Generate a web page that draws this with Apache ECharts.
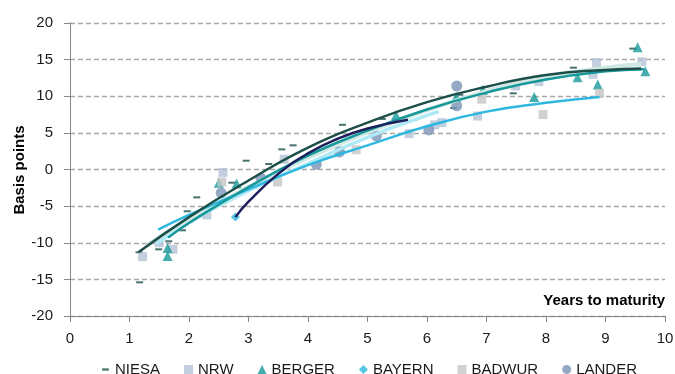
<!DOCTYPE html>
<html>
<head>
<meta charset="utf-8">
<script src="https://cdn.jsdelivr.net/npm/echarts@6/dist/echarts.min.js"></script>
<style>
  html, body { margin: 0; padding: 0; background: #fff; }
  #main { width: 675px; height: 374px; }
</style>
</head>
<body>
<div id="main"></div>
<script>
// scatter points [years, basis points]
var niesa = [[1.16, -11.3], [1.17, -15.4], [1.49, -10.9], [1.66, -9.8], [1.89, -8.3], [1.97, -5.7],
    [2.13, -3.8], [2.72, -1.8], [2.96, 1.2], [3.34, 0.75], [3.56, 2.75], [3.75, 3.3], [4.58, 6.1],
    [5.25, 6.9], [6.45, 8.4], [6.55, 10.2], [7.45, 10.4], [8.46, 13.9], [9.46, 16.5]];
var nrw = [[1.22, -11.9], [1.5, -10.0], [1.73, -10.9], [2.3, -6.2], [2.57, -0.4], [3.6, 1.4],
    [4.53, 2.6], [5.7, 4.9], [6.13, 6.1], [6.25, 6.4], [6.85, 7.3], [7.49, 11.4], [7.88, 12.0],
    [8.79, 13.0], [8.85, 14.6], [9.61, 14.7]];
var berger = [[1.64, -10.7], [1.64, -11.8], [2.5, -1.8], [2.8, -1.9], [5.48, 7.4], [6.49, 9.9],
    [6.94, 10.9], [7.8, 9.9], [8.53, 12.6], [8.87, 11.6], [9.54, 16.7], [9.67, 13.4]];
var bayern = [[2.78, -6.5]];
var badwur = [[2.55, -1.7], [3.49, -1.7], [4.81, 2.7], [6.92, 9.6], [7.95, 7.5], [8.9, 10.4]];
var lander = [[2.54, -3.2], [3.21, -1.2], [4.14, 0.7], [4.53, 2.4], [5.15, 4.6], [6.03, 5.4],
    [6.5, 8.7], [6.5, 11.4]];

// trendlines
var niesaTrend = [[1.15, -11.3], [2, -6.5], [3, -1.5], [4, 3.0], [5, 6.4], [6, 9.2], [7, 11.3],
    [8, 12.9], [9, 13.6], [9.6, 13.8]];
var bergerTrend = [[1.65, -9.3], [2, -7.3], [3, -2.4], [4, 1.9], [5, 5.3], [6, 8.2], [7, 10.5],
    [8, 12.3], [9, 13.4], [9.65, 13.7]];
var badwurTrend = [[1.3, -10.3], [2, -6.8], [3, -2.4], [4, 1.6], [5, 5.1], [6, 8.1], [7, 10.7],
    [8, 12.7], [9, 13.9], [9.6, 14.4]];
var nrwTrend = [[1.45, -10.2], [2, -7.2], [3, -2.9], [4, 0.8], [5, 4.4], [6, 7.4], [6.2, 7.9]];
var bayernTrend = [[1.48, -8.2], [2, -6.2], [3, -2.7], [4, 0.6], [5, 3.3], [6, 5.9], [7, 7.9],
    [8, 9.1], [8.9, 9.9]];
var landerTrend = [[2.78, -6.5], [3, -4.4], [3.5, -0.6], [4, 2.2], [4.5, 4.2], [5, 5.6], [5.68, 6.8]];

var xTicks = [0, 1, 2, 3, 4, 5, 6, 7, 8, 9, 10];
var yTicks = [-20, -15, -10, -5, 0, 5, 10, 15, 20];

var font = 'Liberation Sans, Arial, sans-serif';
var axisColor = '#868686';

function dots(name, data, symbol, size, color) {
    return {
        name: name, type: 'scatter', data: data, symbol: symbol, symbolSize: size,
        itemStyle: { color: color }, z: 2
    };
}
function trend(name, data, color, width) {
    return {
        name: name, type: 'line', data: data, smooth: true, showSymbol: false,
        lineStyle: { color: color, width: width }, z: 3
    };
}

var myChart = echarts.init(document.getElementById('main'));

var option = {
    animation: false,
    grid: { left: 70, right: 10, top: 23, bottom: 58, outerBoundsMode: 'none' },
    // y axis title, placed by hand so it sits where the original has it
    graphic: [{
        type: 'text', x: 20, y: 170, rotation: Math.PI / 2,
        style: {
            text: 'Basis points', align: 'center', verticalAlign: 'middle',
            font: 'bold 15px Liberation Sans, Arial, sans-serif', fill: '#000'
        }
    }],
    legend: {
        top: 357,
        left: 96,
        itemGap: 24,
        itemWidth: 9,
        itemHeight: 9,
        textStyle: { fontFamily: font, fontSize: 15, color: '#1a1a1a' },
        data: [
            { name: 'NIESA', icon: 'path://M0,0L0,0M8,8L8,8M1,3h6v2h-6z' },
            { name: 'NRW', icon: 'rect' },
            { name: 'BERGER', icon: 'triangle' },
            { name: 'BAYERN', icon: 'diamond' },
            { name: 'BADWUR', icon: 'rect' },
            { name: 'LANDER', icon: 'circle' }
        ]
    },
    xAxis: {
        type: 'value', min: xTicks[0], max: xTicks[xTicks.length - 1], interval: 1,
        name: 'Years to maturity', nameLocation: 'end', nameGap: 0,
        nameTextStyle: {
            fontFamily: font, fontSize: 15, fontWeight: 'bold', color: '#000',
            align: 'right', verticalAlign: 'bottom', padding: [0, 0, 8, 0]
        },
        axisLine: { onZero: false, lineStyle: { color: axisColor, width: 1 } },
        axisTick: { show: true, length: 6, lineStyle: { color: axisColor } },
        axisLabel: { margin: 15, fontFamily: font, fontSize: 15, color: '#1a1a1a' },
        splitLine: { show: false }
    },
    yAxis: {
        type: 'value', min: yTicks[0], max: yTicks[yTicks.length - 1], interval: 5,
        axisLine: { show: true, lineStyle: { color: axisColor, width: 1 } },
        axisTick: { show: true, length: 6, lineStyle: { color: axisColor } },
        axisLabel: { margin: 17, fontFamily: font, fontSize: 15, color: '#1a1a1a' },
        splitLine: { lineStyle: { color: '#a8a8a8', width: 1.3, type: [5, 3] } }
    },
    series: [
        dots('NIESA', niesa, 'rect', [7, 2], '#1d4f4a'),
        dots('NRW', nrw, 'rect', 9, '#b4c3d7'),
        dots('BERGER', berger, 'triangle', 10, '#16989a'),
        dots('BAYERN', bayern, 'diamond', 9, '#2db7de'),
        dots('BADWUR', badwur, 'rect', 9, '#c6c6c6'),
        dots('LANDER', lander, 'circle', 11, '#7b93b5'),
        trend('NRW trend', nrwTrend, '#aee9f5', 3.5),
        trend('BADWUR trend', badwurTrend, '#cfe8e3', 4),
        trend('BAYERN trend', bayernTrend, '#2eb8e0', 2.5),
        trend('BERGER trend', bergerTrend, '#16989a', 2.5),
        trend('LANDER trend', landerTrend, '#1c1f5c', 2.5),
        trend('NIESA trend', niesaTrend, '#1d4f4a', 2.5)
    ]
};

myChart.setOption(option);
</script>
</body>
</html>
